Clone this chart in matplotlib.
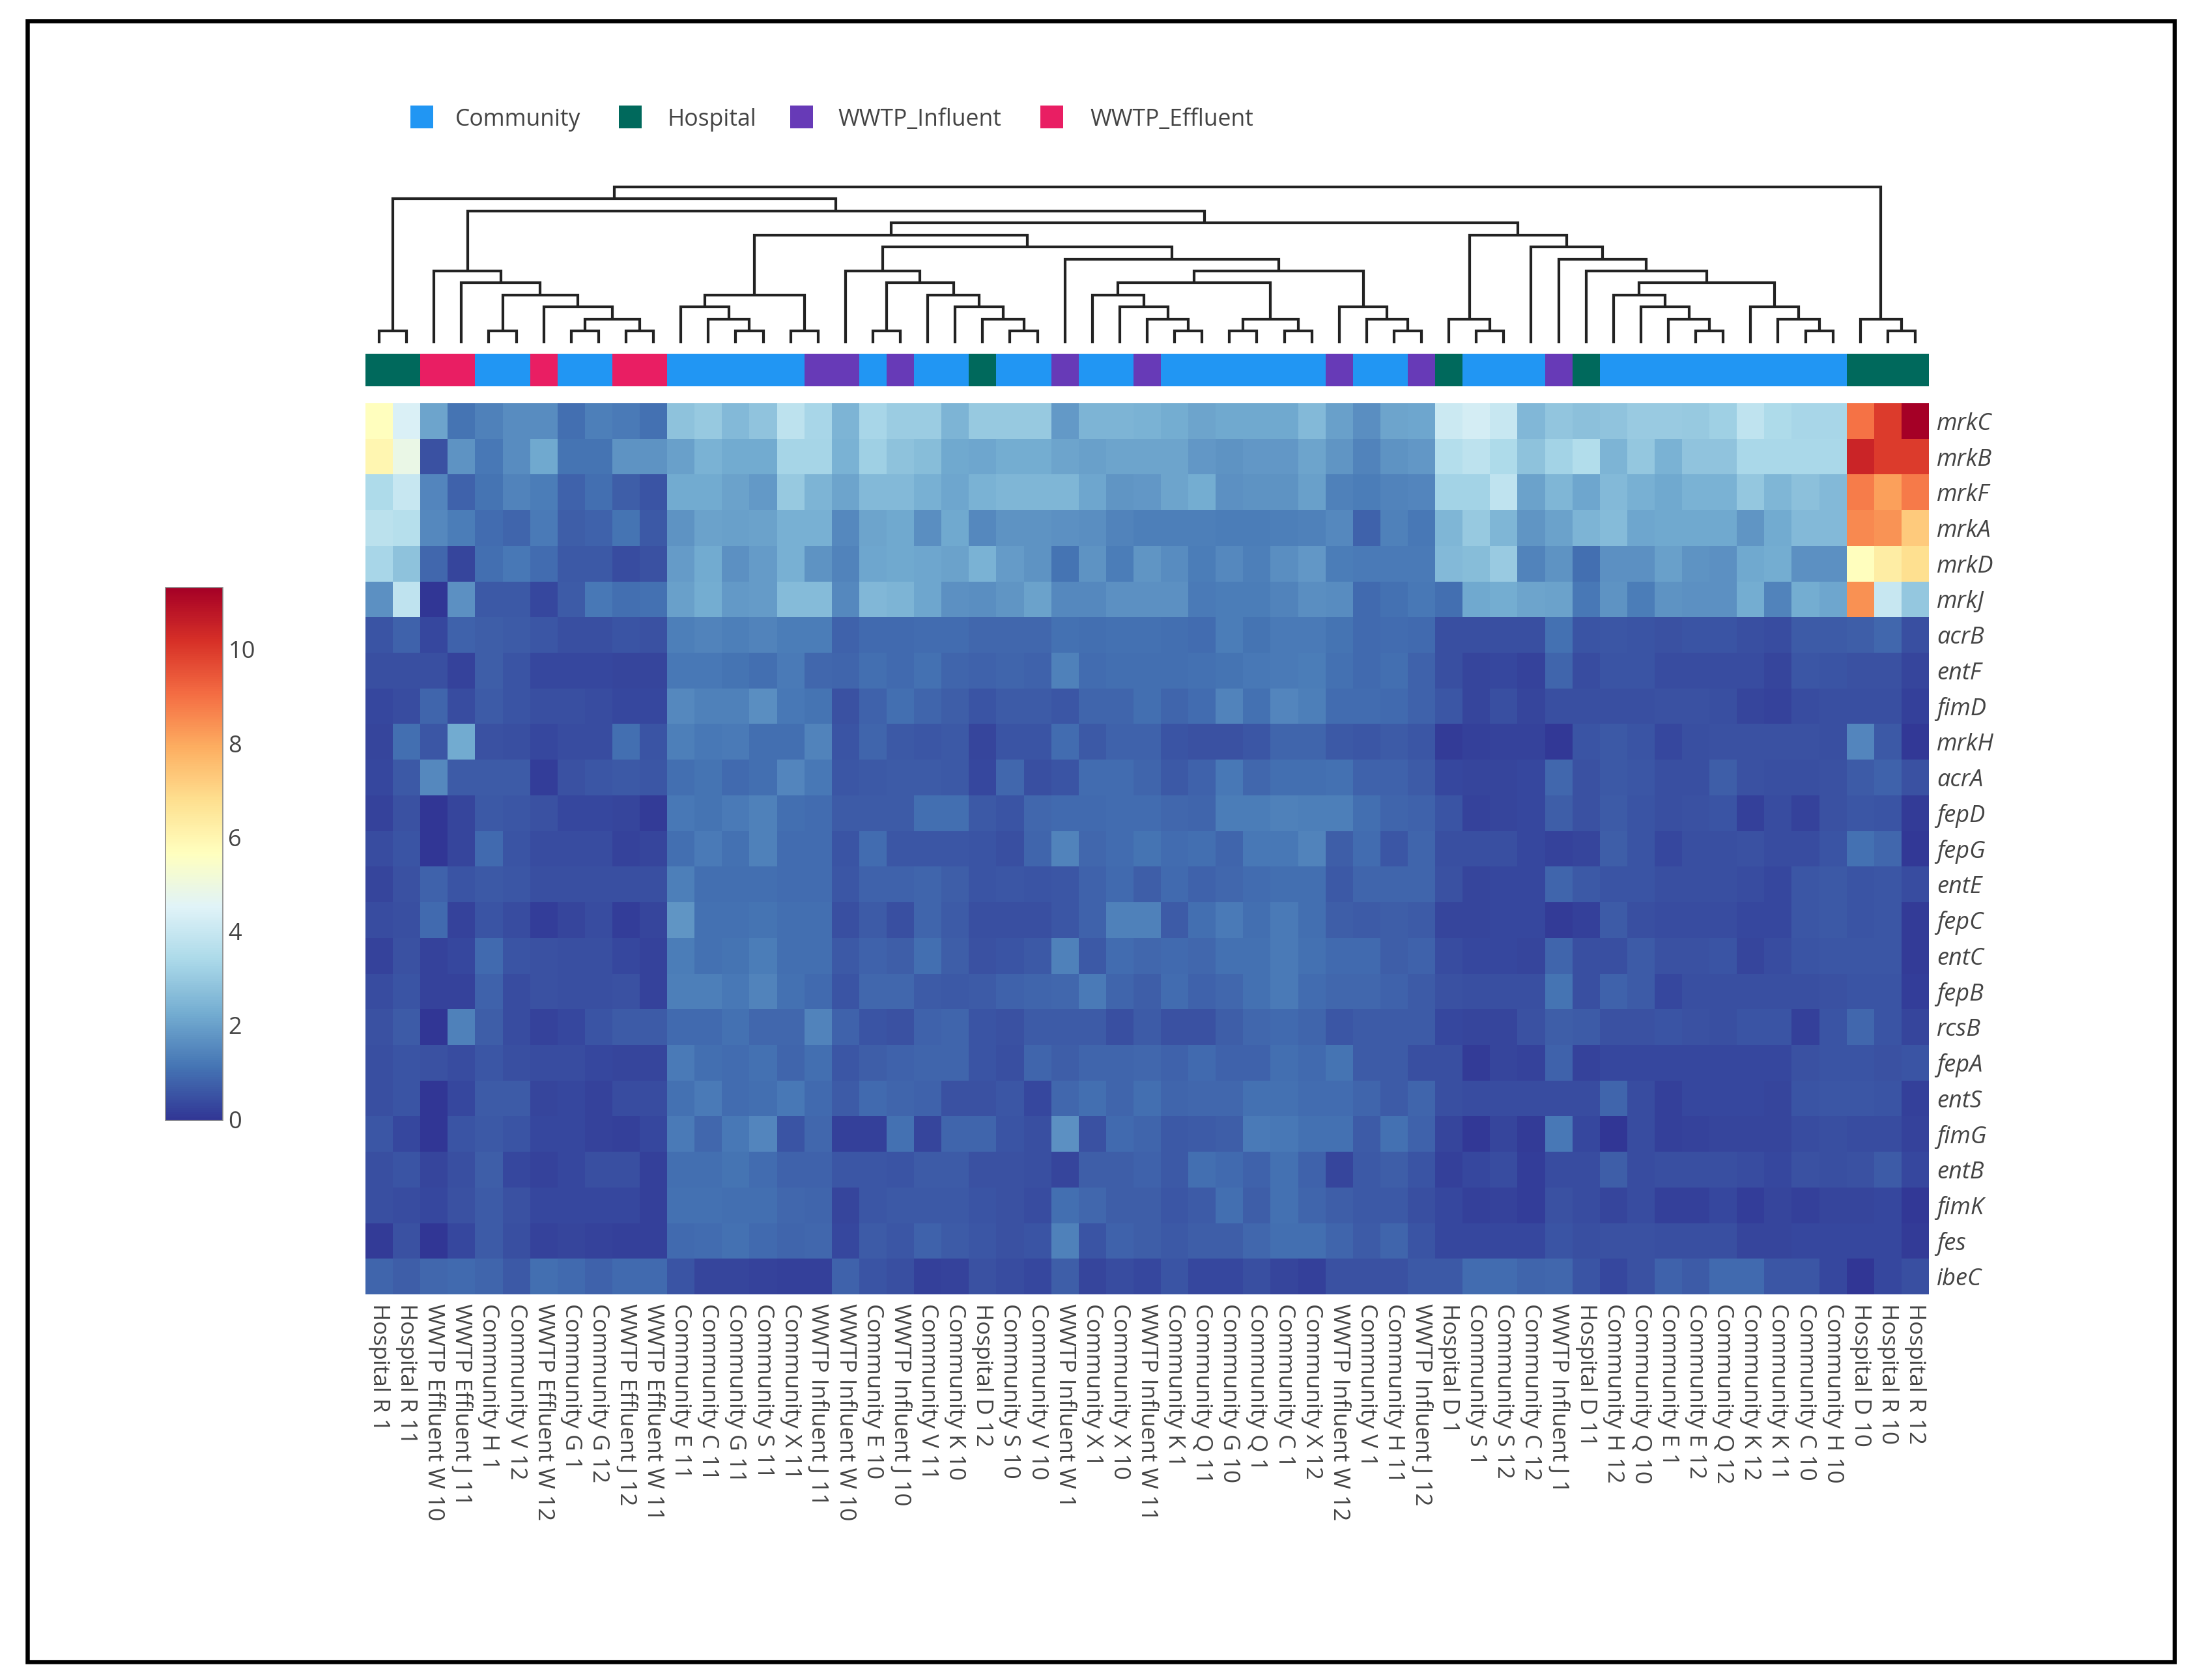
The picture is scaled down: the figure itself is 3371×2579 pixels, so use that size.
import matplotlib
matplotlib.use("Agg")
from matplotlib import pyplot as plt
from matplotlib.colors import ListedColormap
from matplotlib.patches import Rectangle
from matplotlib.transforms import ScaledTranslation
import numpy as np

plt.rcParams["font.family"] = ["Open Sans", "DejaVu Sans"]

samples = [
    "Hospital R 1", "Hospital R 11", "WWTP Effluent W 10", "WWTP Effluent J 11", "Community H 1",
    "Community V 12", "WWTP Effluent W 12", "Community G 1", "Community G 12", "WWTP Effluent J 12",
    "WWTP Effluent W 11", "Community E 11", "Community C 11", "Community G 11", "Community S 11",
    "Community X 11", "WWTP Influent J 11", "WWTP Influent W 10", "Community E 10", "WWTP Influent J 10",
    "Community V 11", "Community K 10", "Hospital D 12", "Community S 10", "Community V 10",
    "WWTP Influent W 1", "Community X 1", "Community X 10", "WWTP Influent W 11", "Community K 1",
    "Community Q 11", "Community G 10", "Community Q 1", "Community C 1", "Community X 12",
    "WWTP Influent W 12", "Community V 1", "Community H 11", "WWTP Influent J 12", "Hospital D 1",
    "Community S 1", "Community S 12", "Community C 12", "WWTP Influent J 1", "Hospital D 11",
    "Community H 12", "Community Q 10", "Community E 1", "Community E 12", "Community Q 12",
    "Community K 12", "Community K 11", "Community C 10", "Community H 10", "Hospital D 10",
    "Hospital R 10", "Hospital R 12",
]
genes = ["mrkC", "mrkB", "mrkF", "mrkA", "mrkD", "mrkJ", "acrB", "entF", "fimD", "mrkH", "acrA", "fepD", "fepG",
         "entE", "fepC", "entC", "fepB", "rcsB", "fepA", "entS", "fimG", "entB", "fimK", "fes", "ibeC"]

group_names = ["Community", "Hospital", "WWTP_Influent", "WWTP_Effluent"]
group_colors = ["#2196F3", "#00695C", "#673AB7", "#E91E63"]

mrkC = [5.7, 4.4, 2.1, 1.15, 1.4, 1.6, 1.6, 1.05, 1.35, 1.25, 1.1, 2.8, 3.0, 2.6, 2.85, 3.8, 3.35, 2.45, 3.35, 3.1, 3.1, 2.45, 3.0, 3.0, 3.0, 1.9, 2.45, 2.45,
        2.4, 2.3, 2.1, 2.2, 2.2, 2.2, 2.6, 2.0, 1.65, 2.1, 2.15, 4.1, 4.3, 4.0, 2.55, 2.9, 2.75, 2.85, 3.05, 3.05, 3.0, 3.15, 3.85, 3.5, 3.35, 3.35, 9.0, 10.0, 11.35]
mrkB = [6.0, 4.9, 0.5, 1.75, 1.2, 1.6, 2.2, 1.15, 1.15, 1.75, 1.75, 2.0, 2.4, 2.25, 2.25, 3.3, 3.3, 2.4, 3.15, 2.8, 2.7, 2.2, 2.15, 2.3, 2.3, 2.1, 2.0, 2.1,
        2.1, 2.1, 1.85, 1.75, 1.85, 1.85, 2.1, 1.8, 1.45, 1.75, 1.85, 3.6, 3.8, 3.5, 2.8, 3.25, 3.55, 2.45, 2.95, 2.4, 2.85, 2.85, 3.4, 3.4, 3.4, 3.4, 10.5, 10.0, 10.0]
mrkF = [3.5, 4.0, 1.5, 0.8, 1.15, 1.45, 1.3, 0.8, 1.05, 0.75, 0.55, 2.25, 2.25, 2.05, 1.9, 3.0, 2.45, 2.1, 2.6, 2.6, 2.35, 2.15, 2.4, 2.5, 2.5, 2.5, 2.15, 1.8,
        1.85, 2.1, 2.3, 1.7, 1.75, 1.75, 2.0, 1.4, 1.3, 1.45, 1.5, 3.25, 3.25, 3.85, 2.05, 2.5, 2.15, 2.6, 2.35, 2.2, 2.4, 2.4, 2.95, 2.5, 2.75, 2.6, 8.8, 8.2, 8.85]
mrkA = [3.75, 3.65, 1.55, 1.3, 1.0, 0.85, 1.25, 0.75, 0.8, 1.15, 0.65, 1.75, 2.05, 2.0, 2.05, 2.35, 2.35, 1.55, 2.1, 2.2, 1.65, 2.2, 1.55, 1.75, 1.75, 1.7, 1.65, 1.45,
        1.35, 1.35, 1.35, 1.3, 1.3, 1.35, 1.4, 1.55, 0.8, 1.4, 1.2, 2.5, 3.0, 2.5, 1.8, 2.05, 2.45, 2.65, 2.15, 2.2, 2.2, 2.2, 1.8, 2.25, 2.6, 2.6, 8.6, 8.4, 7.3]
mrkD = [3.35, 2.8, 0.9, 0.3, 1.05, 1.2, 1.0, 0.65, 0.65, 0.4, 0.5, 1.95, 2.25, 1.7, 1.95, 2.35, 1.75, 1.45, 2.15, 2.2, 2.15, 2.05, 2.4, 1.95, 1.75, 1.15, 1.75, 1.3,
        1.8, 1.6, 1.3, 1.55, 1.35, 1.65, 1.85, 1.3, 1.25, 1.25, 1.25, 2.6, 2.7, 3.05, 1.45, 1.75, 1.05, 1.7, 1.7, 2.0, 1.75, 1.7, 2.2, 2.3, 1.7, 1.7, 5.7, 6.3, 6.8]
mrkJ = [1.7, 3.85, 0.0, 1.7, 0.65, 0.65, 0.35, 0.7, 1.2, 1.05, 1.1, 2.0, 2.3, 1.9, 1.95, 2.65, 2.65, 1.55, 2.55, 2.45, 2.15, 1.7, 1.65, 1.8, 2.05, 1.55, 1.55, 1.7,
        1.7, 1.7, 1.25, 1.3, 1.3, 1.45, 1.65, 1.6, 0.95, 1.1, 1.2, 1.05, 2.2, 2.3, 2.1, 2.05, 1.2, 1.75, 1.3, 1.75, 1.7, 1.7, 2.3, 1.45, 2.3, 2.15, 8.45, 4.0, 2.95]
acrB = [0.55, 0.8, 0.35, 0.8, 0.75, 0.7, 0.6, 0.45, 0.45, 0.55, 0.5, 1.35, 1.45, 1.35, 1.45, 1.3, 1.3, 0.8, 0.95, 0.95, 1.0, 1.0, 0.9, 0.9, 0.9, 1.1, 1.05, 1.1,
        1.1, 1.05, 1.0, 1.3, 1.15, 1.25, 1.25, 1.15, 0.95, 1.0, 0.95, 0.45, 0.45, 0.45, 0.45, 1.1, 0.55, 0.6, 0.55, 0.5, 0.55, 0.55, 0.45, 0.4, 0.7, 0.7, 0.75, 0.9, 0.45]
entF = [0.45, 0.45, 0.45, 0.25, 0.75, 0.55, 0.35, 0.35, 0.35, 0.3, 0.3, 1.2, 1.2, 1.15, 1.05, 1.25, 0.9, 0.85, 1.05, 0.95, 1.1, 0.85, 0.8, 0.85, 0.8, 1.4, 1.0, 1.05,
        1.05, 1.05, 1.1, 1.15, 1.2, 1.25, 1.3, 1.1, 0.95, 1.05, 0.8, 0.45, 0.3, 0.35, 0.25, 0.85, 0.4, 0.55, 0.55, 0.4, 0.4, 0.4, 0.4, 0.3, 0.6, 0.55, 0.5, 0.5, 0.3]
fimD = [0.35, 0.4, 0.85, 0.4, 0.7, 0.55, 0.45, 0.45, 0.4, 0.35, 0.35, 1.55, 1.4, 1.4, 1.65, 1.2, 1.15, 0.5, 0.8, 1.05, 0.85, 0.75, 0.55, 0.7, 0.7, 0.6, 0.85, 0.85,
        1.05, 0.85, 1.0, 1.45, 1.1, 1.5, 1.35, 1.0, 1.0, 0.95, 0.8, 0.6, 0.3, 0.45, 0.3, 0.45, 0.45, 0.45, 0.45, 0.5, 0.5, 0.45, 0.3, 0.25, 0.4, 0.45, 0.45, 0.45, 0.2]
mrkH = [0.3, 1.05, 0.6, 2.25, 0.5, 0.45, 0.35, 0.4, 0.4, 1.05, 0.55, 1.35, 1.2, 1.25, 1.05, 1.05, 1.45, 0.55, 0.85, 0.65, 0.6, 0.65, 0.3, 0.55, 0.55, 1.0, 0.65, 0.8,
        0.8, 0.55, 0.5, 0.5, 0.6, 0.85, 0.85, 0.65, 0.6, 0.7, 0.6, 0.1, 0.2, 0.25, 0.25, 0.05, 0.55, 0.65, 0.55, 0.35, 0.45, 0.5, 0.5, 0.5, 0.5, 0.45, 1.5, 0.65, 0.05]
acrA = [0.35, 0.65, 1.55, 0.7, 0.7, 0.7, 0.15, 0.5, 0.6, 0.65, 0.6, 1.05, 1.15, 0.95, 1.05, 1.5, 1.2, 0.6, 0.65, 0.7, 0.7, 0.65, 0.35, 0.9, 0.45, 0.55, 1.0, 1.0,
        0.85, 0.65, 0.8, 1.2, 0.9, 1.05, 1.05, 1.1, 0.8, 0.8, 0.7, 0.35, 0.3, 0.3, 0.35, 0.9, 0.5, 0.65, 0.6, 0.45, 0.45, 0.75, 0.5, 0.45, 0.45, 0.5, 0.7, 0.8, 0.5]
fepD = [0.25, 0.5, 0.0, 0.3, 0.65, 0.6, 0.5, 0.35, 0.35, 0.3, 0.1, 1.2, 1.15, 1.25, 1.4, 1.05, 1.0, 0.7, 0.7, 0.7, 1.05, 1.05, 0.65, 0.55, 0.9, 0.95, 0.95, 1.0,
        1.0, 0.9, 0.85, 1.3, 1.3, 1.4, 1.35, 1.35, 1.05, 0.85, 0.8, 0.55, 0.25, 0.3, 0.35, 0.75, 0.5, 0.7, 0.55, 0.45, 0.5, 0.55, 0.2, 0.4, 0.25, 0.5, 0.6, 0.55, 0.1]
fepG = [0.4, 0.55, 0.0, 0.3, 0.95, 0.55, 0.4, 0.4, 0.4, 0.25, 0.3, 1.05, 1.25, 1.1, 1.4, 1.0, 1.0, 0.55, 1.0, 0.6, 0.6, 0.6, 0.55, 0.45, 0.85, 1.45, 0.9, 1.0,
        1.15, 1.0, 1.05, 0.85, 1.2, 1.2, 1.45, 0.75, 1.0, 0.6, 0.85, 0.45, 0.45, 0.45, 0.35, 0.25, 0.3, 0.75, 0.55, 0.35, 0.45, 0.45, 0.5, 0.4, 0.4, 0.55, 1.1, 0.9, 0.05]
entE = [0.3, 0.5, 0.8, 0.55, 0.65, 0.6, 0.45, 0.45, 0.45, 0.45, 0.45, 1.35, 1.05, 1.05, 1.05, 1.0, 1.0, 0.6, 0.8, 0.8, 0.85, 0.75, 0.55, 0.6, 0.55, 0.6, 0.8, 0.95,
        0.75, 0.95, 0.8, 0.9, 1.0, 1.05, 1.05, 0.65, 0.85, 0.85, 0.85, 0.5, 0.3, 0.35, 0.35, 0.85, 0.65, 0.55, 0.55, 0.45, 0.45, 0.45, 0.4, 0.35, 0.6, 0.65, 0.55, 0.6, 0.4]
fepC = [0.4, 0.45, 0.95, 0.25, 0.55, 0.4, 0.15, 0.3, 0.4, 0.15, 0.3, 1.8, 1.1, 1.1, 1.15, 1.05, 1.05, 0.45, 0.7, 0.45, 0.85, 0.7, 0.45, 0.45, 0.45, 0.6, 0.8, 1.4,
        1.4, 0.7, 1.05, 1.25, 1.05, 1.25, 1.05, 0.75, 0.7, 0.75, 0.7, 0.3, 0.3, 0.35, 0.35, 0.1, 0.2, 0.7, 0.45, 0.4, 0.4, 0.4, 0.35, 0.35, 0.6, 0.65, 0.55, 0.6, 0.1]
entC = [0.25, 0.5, 0.25, 0.35, 0.95, 0.55, 0.5, 0.45, 0.45, 0.35, 0.25, 1.3, 1.1, 1.15, 1.3, 1.05, 1.05, 0.65, 0.8, 0.75, 1.05, 0.75, 0.5, 0.55, 0.65, 1.4, 0.65, 1.0,
        0.9, 0.95, 0.9, 1.1, 1.1, 1.25, 1.1, 0.95, 0.95, 0.75, 0.8, 0.4, 0.35, 0.35, 0.3, 0.85, 0.45, 0.45, 0.7, 0.5, 0.5, 0.55, 0.3, 0.4, 0.55, 0.6, 0.6, 0.6, 0.1]
fepB = [0.4, 0.55, 0.25, 0.25, 0.8, 0.4, 0.5, 0.45, 0.45, 0.5, 0.25, 1.35, 1.35, 1.2, 1.45, 1.1, 0.95, 0.55, 0.9, 0.9, 0.7, 0.65, 0.7, 0.8, 0.85, 0.9, 1.25, 0.85,
        0.75, 1.0, 0.8, 0.9, 1.1, 1.25, 1.0, 0.9, 0.9, 0.8, 0.7, 0.5, 0.45, 0.45, 0.45, 1.15, 0.45, 0.8, 0.7, 0.35, 0.45, 0.45, 0.45, 0.45, 0.45, 0.5, 0.55, 0.55, 0.15]
rcsB = [0.5, 0.7, 0.0, 1.4, 0.75, 0.4, 0.25, 0.35, 0.55, 0.7, 0.7, 0.95, 0.95, 1.1, 0.9, 0.9, 1.45, 0.8, 0.55, 0.5, 0.8, 0.85, 0.55, 0.5, 0.7, 0.7, 0.7, 0.45,
        0.7, 0.5, 0.5, 0.75, 0.9, 0.95, 0.85, 0.6, 0.7, 0.7, 0.7, 0.35, 0.3, 0.3, 0.5, 0.75, 0.7, 0.5, 0.5, 0.55, 0.5, 0.45, 0.55, 0.55, 0.2, 0.55, 0.9, 0.55, 0.3]
fepA = [0.45, 0.55, 0.5, 0.4, 0.6, 0.45, 0.4, 0.4, 0.35, 0.3, 0.3, 1.25, 1.05, 1.0, 1.1, 0.85, 1.05, 0.6, 0.75, 0.8, 0.85, 0.85, 0.55, 0.45, 0.85, 0.75, 0.85, 0.85,
        0.9, 0.8, 0.95, 0.8, 0.8, 1.05, 0.95, 1.15, 0.7, 0.7, 0.45, 0.45, 0.1, 0.3, 0.25, 0.8, 0.25, 0.35, 0.35, 0.35, 0.35, 0.35, 0.35, 0.35, 0.5, 0.55, 0.55, 0.5, 0.55]
entS = [0.45, 0.55, 0.0, 0.35, 0.7, 0.7, 0.3, 0.35, 0.25, 0.4, 0.4, 1.1, 1.25, 1.0, 1.05, 1.2, 0.95, 0.7, 0.95, 0.85, 0.8, 0.5, 0.5, 0.6, 0.35, 0.9, 1.05, 0.85,
        1.05, 0.85, 0.9, 0.9, 1.1, 1.1, 1.0, 1.0, 0.85, 0.7, 0.85, 0.45, 0.4, 0.4, 0.4, 0.4, 0.4, 0.85, 0.4, 0.2, 0.35, 0.35, 0.35, 0.3, 0.55, 0.6, 0.6, 0.55, 0.2]
fimG = [0.6, 0.35, 0.0, 0.55, 0.65, 0.55, 0.35, 0.35, 0.25, 0.2, 0.35, 1.25, 0.9, 1.2, 1.5, 0.55, 0.9, 0.2, 0.2, 1.1, 0.3, 0.85, 0.85, 0.55, 0.45, 1.7, 0.5, 0.95,
        0.85, 0.65, 0.7, 0.75, 1.25, 1.2, 1.1, 1.1, 0.7, 1.1, 0.8, 0.3, 0.05, 0.3, 0.1, 1.2, 0.35, 0.0, 0.4, 0.2, 0.25, 0.3, 0.3, 0.3, 0.4, 0.45, 0.4, 0.4, 0.25]
entB = [0.45, 0.55, 0.3, 0.45, 0.75, 0.35, 0.25, 0.35, 0.45, 0.45, 0.2, 1.05, 1.05, 1.15, 1.0, 0.8, 0.8, 0.6, 0.6, 0.55, 0.7, 0.7, 0.5, 0.5, 0.45, 0.3, 0.75, 0.75,
        0.8, 0.65, 1.05, 0.95, 0.8, 1.1, 0.8, 0.3, 0.65, 0.75, 0.55, 0.2, 0.35, 0.4, 0.15, 0.4, 0.4, 0.75, 0.4, 0.45, 0.45, 0.45, 0.4, 0.35, 0.5, 0.45, 0.5, 0.7, 0.35]
fimK = [0.45, 0.4, 0.35, 0.5, 0.7, 0.5, 0.35, 0.35, 0.35, 0.35, 0.2, 1.1, 1.1, 1.05, 1.05, 0.9, 0.85, 0.3, 0.6, 0.65, 0.65, 0.65, 0.55, 0.5, 0.4, 1.05, 0.9, 0.75,
        0.75, 0.6, 0.7, 1.05, 0.75, 1.1, 0.85, 0.75, 0.65, 0.65, 0.45, 0.35, 0.2, 0.25, 0.15, 0.5, 0.4, 0.3, 0.4, 0.2, 0.2, 0.35, 0.15, 0.3, 0.2, 0.3, 0.3, 0.35, 0.05]
fes = [0.1, 0.5, 0.0, 0.35, 0.7, 0.45, 0.25, 0.3, 0.25, 0.2, 0.2, 0.95, 1.0, 1.1, 0.95, 0.85, 0.9, 0.35, 0.7, 0.6, 0.8, 0.7, 0.6, 0.5, 0.55, 1.4, 0.55, 0.8,
       0.75, 0.65, 0.75, 0.75, 0.9, 1.05, 1.05, 0.85, 0.7, 0.85, 0.55, 0.35, 0.35, 0.35, 0.35, 0.55, 0.45, 0.5, 0.5, 0.45, 0.45, 0.45, 0.3, 0.3, 0.35, 0.35, 0.35, 0.35, 0.1]
ibeC = [0.85, 0.75, 0.9, 0.95, 0.85, 0.65, 1.05, 0.95, 0.8, 0.95, 0.95, 0.55, 0.3, 0.3, 0.25, 0.2, 0.2, 0.8, 0.55, 0.45, 0.2, 0.25, 0.5, 0.4, 0.35, 0.75, 0.3, 0.4,
        0.35, 0.55, 0.35, 0.35, 0.45, 0.3, 0.2, 0.5, 0.5, 0.5, 0.65, 0.65, 1.0, 1.0, 0.85, 0.9, 0.55, 0.35, 0.5, 0.8, 0.7, 0.95, 0.95, 0.6, 0.6, 0.35, 0.0, 0.35, 0.45]

heat = np.array([mrkC, mrkB, mrkF, mrkA, mrkD, mrkJ, acrB, entF, fimD, mrkH, acrA, fepD, fepG,
                 entE, fepC, entC, fepB, rcsB, fepA, entS, fimG, entB, fimK, fes, ibeC])

# dendrogram nodes are (level, left, right), ints are 1-based columns
hosp_r = (1, 1, 2)
effluent = (6, 3, (5, 4, (4, (1, 5, 6), (3, 7, (2, (1, 8, 9), (1, 10, 11))))))
comm_e = (4, (3, 12, (2, 13, (1, 14, 15))), (1, 16, 17))
comm_j = (6, 18, (5, (1, 19, 20), (4, 21, (3, 22, (2, 23, (1, 24, 25))))))
comm_w = (7, 26, (6, (5, (4, 27, (3, 28, (2, 29, (1, 30, 31)))), (2, (1, 32, 33), (1, 34, 35))),
                  (3, 36, (2, 37, (1, 38, 39)))))
comm_d = (2, 40, (1, 41, 42))
comm_q = (8, 43, (7, 44, (6, 45, (5, (4, 46, (3, 47, (2, 48, (1, 49, 50)))), (3, 51, (2, 52, (1, 53, 54)))))))
hosp_hi = (2, 55, (1, 56, 57))
root = (13, (12, hosp_r, (11, effluent, (10, (9, comm_e, (8, comm_j, comm_w)), (9, comm_d, comm_q)))), hosp_hi)

W, H = 3371, 2579
DPI = 200
TEXT = "#444444"
LABEL_SIZE = 12.7


def box(left, top, right, bottom):
    return [left / W, 1 - bottom / H, (right - left) / W, (bottom - top) / H]


def group_of(name):
    if name.startswith("Community"):
        return 0
    if name.startswith("Hospital"):
        return 1
    return 2 if "Influent" in name else 3


def draw_node(ax, node):
    if isinstance(node, int):
        return node - 0.5, 0
    level, left, right = node
    lx, ly = draw_node(ax, left)
    rx, ry = draw_node(ax, right)
    ax.plot([lx, lx, rx, rx], [ly, level, level, ry], color="#222222", lw=4.2 * 72 / DPI,
            solid_joinstyle="miter", solid_capstyle="butt")
    return (lx + rx) / 2, level


fig = plt.figure(figsize=(W / DPI, H / DPI), dpi=DPI, facecolor="white")

# frame round the whole panel
fig.add_artist(Rectangle((41.5 / W, 1 - 2551 / H), (3337.5 - 41.5) / W, (2551 - 31.5) / H, transform=fig.transFigure,
                         fill=False, edgecolor="black", lw=6.5 * 72 / DPI))

# legend
legend_left = [630, 950, 1213, 1597]
legend_text = [699, 1024, 1286, 1673]
for name, color, sx, tx in zip(group_names, group_colors, legend_left, legend_text):
    fig.add_artist(Rectangle((sx / W, 1 - 197 / H), 35 / W, 35 / H, transform=fig.transFigure,
                             facecolor=color, edgecolor="none"))
    fig.text(tx / W, 1 - 193 / H, name, ha="left", va="baseline", fontsize=12.8, color=TEXT)

ax_tree = fig.add_axes(box(561, 287, 2961, 526.5))
draw_node(ax_tree, root)
ax_tree.set_xlim(0, len(samples))
ax_tree.set_ylim(0, 13)
ax_tree.axis("off")
for line in ax_tree.lines:
    line.set_clip_on(False)

ax_strip = fig.add_axes(box(561, 543, 2961, 592.5))
ax_strip.pcolormesh([[group_of(s) for s in samples]], cmap=ListedColormap(group_colors), vmin=0, vmax=3)
ax_strip.axis("off")

ax_heat = fig.add_axes(box(561, 619, 2961, 1987))
mesh = ax_heat.pcolormesh(heat, cmap="RdYlBu_r", vmin=0, vmax=11.35)
ax_heat.set_ylim(len(genes), 0)
ax_heat.set_xticks(np.arange(len(samples)) + 0.5)
ax_heat.set_xticklabels(samples, rotation=270, ha="center", va="top", fontsize=LABEL_SIZE, color=TEXT)
ax_heat.set_yticks(np.arange(len(genes)) + 0.5)
ax_heat.set_yticklabels(genes, fontsize=13, color=TEXT, style="italic")
ax_heat.yaxis.tick_right()
ax_heat.tick_params(axis="x", length=0, pad=5)
ax_heat.tick_params(axis="y", length=0, pad=4.3)
for spine in ax_heat.spines.values():
    spine.set_visible(False)

ax_bar = fig.add_axes(box(254, 901.5, 342, 1720))
cbar = fig.colorbar(mesh, cax=ax_bar, ticks=[0, 2, 4, 6, 8, 10])
cbar.ax.tick_params(length=0, pad=3, labelsize=13, labelcolor=TEXT)
cbar.outline.set_edgecolor("#888888")
cbar.outline.set_linewidth(0.6)
nudge_up = ScaledTranslation(0, 2 / DPI, fig.dpi_scale_trans)
for label in cbar.ax.get_yticklabels():
    label.set_transform(label.get_transform() + nudge_up)

fig.savefig("out.png", dpi=DPI)
